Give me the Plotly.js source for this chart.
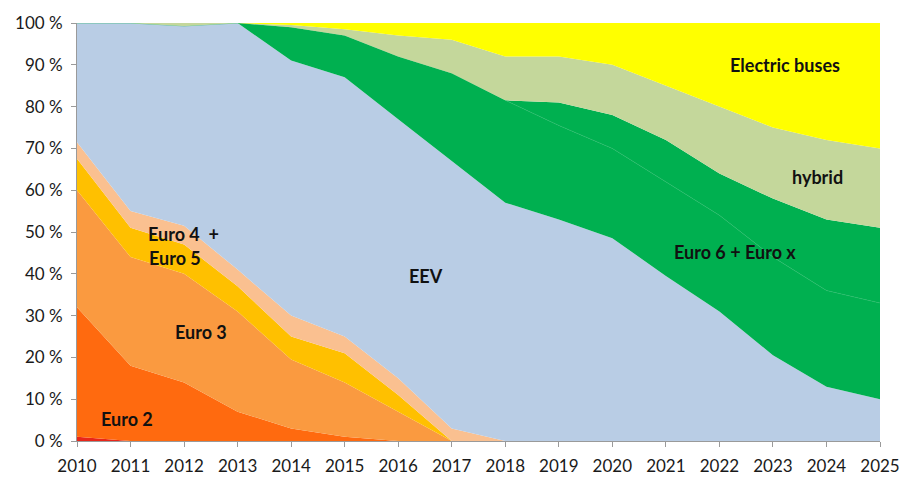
<!DOCTYPE html>
<html>
<head>
<meta charset="utf-8">
<script src="https://cdn.plot.ly/plotly-3.0.1.min.js"></script>
<style>html,body{margin:0;padding:0;background:#fff;}#chart{width:912px;height:492px;}</style>
</head>
<body>
<div id="chart"></div>
<script>
const years = [2010,2011,2012,2013,2014,2015,2016,2017,2018,2019,2020,2021,2022,2023,2024,2025];
const euro1    = [1,0,0,0,0,0,0,0,0,0,0,0,0,0,0,0];
const euro2    = [31,18,14,7,3,1,0,0,0,0,0,0,0,0,0,0];
const euro3    = [28,26,26,24,16.5,13,7,0,0,0,0,0,0,0,0,0];
const euro4    = [7.5,7,7,6,5.5,7,4,0,0,0,0,0,0,0,0,0];
const euro5    = [4,4,4.5,4,5,4,4,3,0,0,0,0,0,0,0,0];
const eev      = [28.5,45,47.8,59,61,62,62,64,57,53,48.5,39.5,31,20.5,13,10];
const euro6    = [0,0,0,0,8,10,15,21,24.5,22.5,21.5,22.5,23,23.5,23,23];
const eurox    = [0,0,0,0,0,0,0,0,0,5.5,8,10,10,14,17,18];
const hybrid   = [0,0,0.7,0,0.5,1.5,5,8,10.5,11,12,13,16,17,19,19];
const electric = [0,0,0,0,0.5,1.5,3,4,8,8,10,15,20,25,28,30];

const seriesNames = ['Euro 1','Euro 2','Euro 3','Euro 4','Euro 5','EEV','Euro 6','Euro x','hybrid','Electric buses'];
const seriesData = [euro1,euro2,euro3,euro4,euro5,eev,euro6,eurox,hybrid,electric];
const colors = ['#E8261A','#FF6A0F','#FA9A40','#FFC000','#FAC090','#B9CDE5','#00B050','#00B050','#C4D79B','#FFFF00'];

const traces = seriesData.map((d,i) => ({
  x: years, y: d, name: seriesNames[i], type: 'scatter', mode: 'lines',
  stackgroup: 'one', fillcolor: colors[i],
  line: {width: i === 6 ? 0.6 : 0, color: i === 6 ? '#22BA66' : colors[i]},
  hoverinfo: 'x+y+name'
}));

const labels = [
  {t:'Electric buses', x:2023.23, y:90},
  {t:'hybrid', x:2023.84, y:63.2},
  {t:'Euro 6 + Euro x', x:2022.29, y:45.2},
  {t:'EEV', x:2016.52, y:39.5},
  {t:'Euro 3', x:2012.32, y:26},
  {t:'Euro 4&nbsp;&nbsp;+', x:2011.98, y:49.5},
  {t:'Euro 5', x:2011.83, y:43.8},
  {t:'Euro 2', x:2010.93, y:5.3}
];

const layout = {
  width: 912, height: 492,
  margin: {l:77, r:32, t:23, b:51},
  paper_bgcolor: '#fff', plot_bgcolor: '#fff',
  showlegend: false,
  font: {family: 'Lato, "Open Sans", sans-serif', size: 17, color: '#1a1a1a'},
  xaxis: {
    range: [2010, 2025], tickvals: years, ticktext: years.map(String),
    showgrid: false, zeroline: false, showline: true, linecolor: '#9a9a9a', linewidth: 1,
    ticks: 'outside', ticklen: 5, tickcolor: '#9a9a9a', ticklabelstandoff: 5,
    tickfont: {size: 17, color: '#1a1a1a'}
  },
  yaxis: {
    range: [0, 100], dtick: 10, ticksuffix: ' %',
    showgrid: false, zeroline: false, showline: true, linecolor: '#9a9a9a', linewidth: 1,
    ticks: 'outside', ticklen: 5, tickcolor: '#9a9a9a', ticklabelstandoff: 5,
    tickfont: {size: 17, color: '#1a1a1a'}
  },
  annotations: labels.map(a => ({
    text: '<b>' + a.t + '</b>', x: a.x, y: a.y, xref: 'x', yref: 'y',
    showarrow: false, font: {size: 18, color: '#111', family: 'Lato, "Open Sans", sans-serif'}
  }))
};

Plotly.newPlot('chart', traces, layout, {displayModeBar: false, staticPlot: true});
</script>
</body>
</html>
